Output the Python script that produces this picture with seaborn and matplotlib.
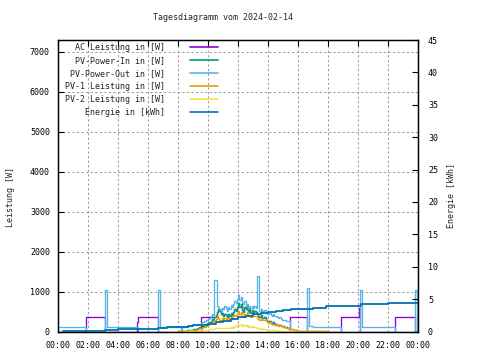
import numpy as np
import pandas as pd
import matplotlib
matplotlib.use("Agg")
import matplotlib.pyplot as plt
from matplotlib.lines import Line2D
import seaborn as sns

# ---------------- data ----------------
title = "Tagesdiagramm vom 2024-02-14"
x_tick_labels = ["00:00", "02:00", "04:00", "06:00", "08:00", "10:00", "12:00",
                 "14:00", "16:00", "18:00", "20:00", "22:00", "00:00"]
left_ticks = [0, 1000, 2000, 3000, 4000, 5000, 6000, 7000]
right_ticks = [0, 5, 10, 15, 20, 25, 30, 35, 40, 45]
labels = ["AC Leistung in [W]", "PV-Power-In in [W]", "PV-Power-Out in [W]",
          "PV-1 Leistung in [W]", "PV-2 Leistung in [W]", "Energie in [kWh]"]
colors = ["#9400D3", "#009E73", "#56B4E9", "#E69F00", "#F0E442", "#0072B2"]

# 5-minute samples from 08:00 to 17:55 (one row per hour)
pv_in_day = [
    10, 10, 15, 15, 20, 20, 25, 30, 30, 40, 40, 45,
    55, 60, 70, 80, 95, 105, 120, 130, 145, 160, 180, 205,
    220, 245, 270, 320, 295, 360, 410, 480, 570, 520, 430, 460,
    385, 445, 410, 360, 430, 390, 470, 420, 500, 560, 520, 610,
    720, 620, 680, 550, 500, 610, 560, 650, 500, 570, 470, 550,
    490, 520, 480, 440, 400, 370, 410, 340, 330, 360, 300, 260,
    240, 260, 220, 200, 230, 190, 200, 175, 160, 170, 150, 140,
    130, 115, 105, 95, 85, 75, 65, 55, 45, 40, 35, 30,
    25, 20, 20, 15, 15, 12, 10, 10, 10, 10, 10, 10,
    10, 10, 8, 8, 8, 5, 5, 5, 5, 5, 5, 5,
]
pv1_day = [
    10, 10, 15, 15, 20, 20, 20, 25, 25, 30, 30, 35,
    40, 45, 50, 60, 70, 80, 90, 100, 110, 120, 140, 160,
    170, 190, 210, 250, 230, 280, 320, 380, 350, 300, 280, 330,
    300, 350, 320, 280, 330, 300, 360, 320, 380, 420, 390, 450,
    520, 450, 500, 400, 370, 450, 420, 480, 380, 400, 360, 420,
    380, 400, 380, 350, 320, 300, 330, 290, 280, 300, 260, 230,
    210, 230, 200, 180, 200, 170, 180, 160, 150, 160, 140, 130,
    120, 105, 95, 85, 80, 70, 60, 55, 45, 40, 35, 30,
    25, 20, 20, 15, 15, 12, 10, 10, 10, 10, 10, 10,
    10, 10, 8, 8, 8, 5, 5, 5, 5, 5, 5, 5,
]
pv2_day = [
    0, 0, 0, 0, 0, 0, 5, 5, 5, 10, 10, 10,
    15, 15, 20, 20, 25, 25, 30, 30, 35, 40, 40, 45,
    50, 55, 60, 70, 65, 80, 90, 100, 95, 85, 80, 90,
    85, 95, 90, 80, 100, 90, 110, 100, 120, 140, 130, 160,
    200, 170, 180, 150, 130, 160, 140, 170, 120, 130, 110, 130,
    110, 120, 100, 90, 80, 70, 80, 70, 60, 75, 60, 50,
    45, 50, 40, 35, 40, 30, 30, 25, 25, 20, 20, 15,
    15, 10, 10, 10, 5, 5, 5, 5, 0, 0, 0, 0,
    0, 0, 0, 0, 0, 0, 0, 0, 0, 0, 0, 0,
    0, 0, 0, 0, 0, 0, 0, 0, 0, 0, 0, 0,
]
# PV-Power-Out 08:00 .. 15:25 (5-minute samples)
pv_out_day = [
    106, 106, 0, 106, 106, 106, 110, 120, 130, 140, 150, 160,
    165, 170, 175, 180, 185, 195, 210, 230, 245, 260, 280, 300,
    320, 345, 380, 430, 410, 1300, 1300, 650, 620, 560, 520, 600,
    560, 640, 590, 520, 610, 560, 660, 610, 700, 760, 720, 820,
    920, 800, 860, 720, 680, 760, 640, 700, 600, 650, 580, 640,
    600, 640, 580, 1380, 1380, 520, 560, 500, 510, 540, 480, 450,
    450, 470, 420, 400, 430, 380, 400, 360, 340, 360, 320, 300,
    290, 280, 270, 265, 270, 260,
]
pv_out_morning_t = ["00:00", "01:51", "03:08", "03:16", "05:20", "06:40", "06:48"]
pv_out_morning_v = [106, 0, 1030, 106, 0, 1030, 106]
pv_out_evening_t = ["15:28", "16:37", "16:45", "17:00", "18:53", "20:06", "20:14",
                    "22:28", "23:48", "23:56", "24:00"]
pv_out_evening_v = [0, 1090, 130, 106, 0, 1030, 106, 0, 1030, 0, 0]

ac_morning_t = ["00:00", "01:51", "03:08", "05:17", "05:20", "06:40", "09:33"]
ac_morning_v = [0, 370, 0, 240, 370, 0, 370]
ac_evening_t = ["15:28", "16:37", "18:53", "20:04", "20:06", "22:28", "23:48", "24:00"]
ac_evening_v = [370, 0, 370, 600, 0, 370, 0, 0]

energy_t = ["00:21", "01:51", "03:08", "04:00", "04:40", "05:20", "06:40", "07:15",
            "08:40", "09:00", "09:30", "10:00", "10:30", "11:00", "11:30", "12:00",
            "12:30", "13:00", "13:30", "14:00", "14:30", "15:00", "15:30", "16:00",
            "16:40", "17:00", "17:30", "17:50", "20:12", "21:20", "22:00", "24:00"]
energy_v = [0.05, 0.1, 0.2, 0.33, 0.38, 0.45, 0.6, 0.73,
            0.85, 0.95, 1.05, 1.2, 1.4, 1.65, 1.95, 2.25,
            2.45, 2.65, 2.8, 3.05, 3.2, 3.3, 3.4, 3.5,
            3.55, 3.65, 3.7, 3.9, 4.2, 4.3, 4.47, 4.47]


def hrs(lst):
    out = []
    for s in lst:
        h, m = s.split(":")
        out.append(int(h) + int(m) / 60)
    return out


day_h = list(8 + np.arange(len(pv_in_day)) / 12)   # 08:00 .. 17:55
end_h = hrs(["18:00"])

df_in = pd.DataFrame({"h": day_h + end_h, "v": pv_in_day + [0]})
df_p1 = pd.DataFrame({"h": day_h + end_h, "v": pv1_day + [0]})
df_p2 = pd.DataFrame({"h": day_h + end_h, "v": pv2_day + [0]})
n_out = len(pv_out_day)
df_out = pd.DataFrame({"h": hrs(pv_out_morning_t) + day_h[:n_out] + hrs(pv_out_evening_t),
                       "v": pv_out_morning_v + pv_out_day + pv_out_evening_v})
# AC is hidden behind the PV-Power-In trace during the day (10:25 .. 15:25)
i0 = 29
df_ac = pd.DataFrame({"h": hrs(ac_morning_t) + day_h[i0:n_out] + hrs(ac_evening_t),
                      "v": ac_morning_v + pv_in_day[i0:n_out] + ac_evening_v})
df_en = pd.DataFrame({"h": hrs(energy_t), "v": energy_v})

# ---------------- plot ----------------
sns.set_style("white")
plt.rcParams["font.family"] = ["DejaVu Sans Mono", "DejaVu Sans"]
plt.rcParams["font.size"] = 6

fig = plt.figure(figsize=(4.8, 3.6), dpi=100)
ax = fig.add_axes([58 / 480, 1 - 331.5 / 360, 360 / 480, 291.5 / 360])
ax2 = ax.twinx()

lw = 0.95
for df, c in zip([df_ac, df_in, df_out, df_p1, df_p2], colors[:5]):
    sns.lineplot(data=df, x="h", y="v", ax=ax, color=c, lw=lw,
                 drawstyle="steps-post", estimator=None, legend=False)
sns.lineplot(data=df_en, x="h", y="v", ax=ax2, color=colors[5], lw=1.3,
             drawstyle="steps-post", estimator=None, legend=False)

ax.set_xlim(0, 24)
ax.set_ylim(0, 7290)
ax2.set_ylim(0, 45)
ax.set_xticks(np.arange(0, 25, 2))
ax.set_xticklabels(x_tick_labels)
ax.set_yticks(left_ticks)
ax.set_yticklabels([str(t) for t in left_ticks])
ax2.set_yticks(right_ticks)
ax2.set_yticklabels([str(t) for t in right_ticks])
ax.set_xlabel("")
ax.set_ylabel("")
ax2.set_ylabel("")

ax.tick_params(axis="x", direction="in", length=4, width=0.8, top=True,
               labelsize=6, pad=6.5, colors="black")
ax.tick_params(axis="y", direction="in", length=4, width=0.8, right=False,
               labelsize=6, pad=5.8, colors="black")
ax2.tick_params(axis="y", direction="in", length=4, width=0.8,
                labelsize=6, pad=7.2, colors="black")
for a in (ax, ax2):
    for s in a.spines.values():
        s.set_color("black")
        s.set_linewidth(0.9)

ax.grid(True, color="#a0a0a0", linestyle=(0, (2.2, 2.2)), linewidth=0.75)
ax2.grid(False)
ax.set_axisbelow(True)

fig.text(223 / 480, 1 - 18 / 360, title, ha="center", va="center", fontsize=6)
fig.text(10.5 / 480, 1 - 197 / 360, "Leistung [W]", rotation=90,
         ha="center", va="center", fontsize=6)
fig.text(451.5 / 480, 1 - 196 / 360, "Energie [kWh]", rotation=90,
         ha="center", va="center", fontsize=6)

handles = [Line2D([], [], color=c, lw=1.2) for c in colors]
leg = fig.legend(handles, labels, loc="upper right",
                 bbox_to_anchor=(218 / 480, 1 - 43 / 360),
                 frameon=False, markerfirst=False, fontsize=6,
                 handlelength=3.4, handletextpad=3.0, labelspacing=0.48,
                 borderpad=0, borderaxespad=0)
for col in leg._legend_handle_box.get_children():
    col.align = "right"

fig.savefig("out.png", dpi=100)
